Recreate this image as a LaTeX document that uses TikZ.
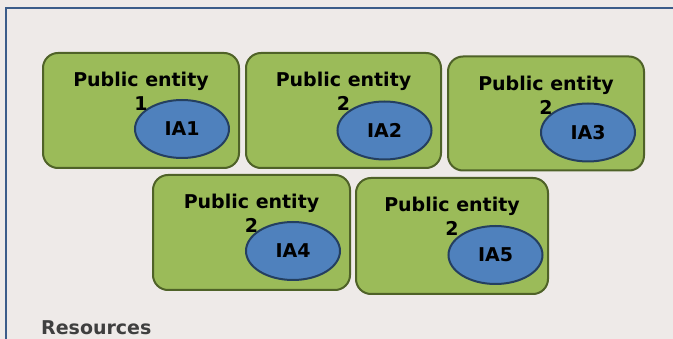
\documentclass[tikz,border=0pt]{standalone}
\usepackage{fontspec}
\setmainfont{DejaVu Sans}
\usetikzlibrary{positioning, shapes.geometric}

\definecolor{pagebg}{HTML}{EEEAE8}
\definecolor{framecol}{HTML}{3B5C89}
\definecolor{entityfill}{HTML}{9BBB59}
\definecolor{entityline}{HTML}{4F6228}
\definecolor{iafill}{HTML}{4F81BD}
\definecolor{ialine}{HTML}{243F60}
\definecolor{restext}{HTML}{3F3F3F}

\begin{document}
\begin{tikzpicture}[x=1pt, y=-1pt,
    entity/.style = {draw=entityline, fill=entityfill, line width=2pt,
        rounded corners=15pt, inner sep=0pt, minimum height=115pt},
    ia/.style = {draw=ialine, fill=iafill, line width=2pt, ellipse,
        inner sep=0pt, minimum width=94pt, minimum height=58pt,
        font=\bfseries\fontsize{19}{22}\selectfont},
    title/.style = {align=center, inner sep=0pt, anchor=north,
        font=\bfseries\fontsize{19}{24}\selectfont}]
    \useasboundingbox (0,0) rectangle (673,339);
    \clip (0,0) rectangle (673,339);
    \fill[pagebg] (0,0) rectangle (673,339);
    \draw[framecol, line width=2pt] (6,8) rectangle (700,370);

    % public entities
    \node[entity, minimum width=196pt] (e1) at (141,110.5) {};
    \node[entity, minimum width=195pt] (e2) at (343.5,110.5) {};
    \node[entity, minimum width=196pt, minimum height=114pt] (e3) at (546,113.5) {};
    \node[entity, minimum width=197pt] (e4) at (251.5,232.5) {};
    \node[entity, minimum width=192pt, minimum height=116pt] (e5) at (452,236) {};

    % internal areas
    \node[ia] (ia1) at (182,129) {IA1};
    \node[ia] (ia2) at (384.5,130.5) {IA2};
    \node[ia] (ia3) at (588,132.5) {IA3};
    \node[ia] (ia4) at (293,251) {IA4};
    \node[ia] (ia5) at (495.5,255) {IA5};

    \node[title, below=20pt of e1.north] (t1) {Public entity\\1};
    \node[title, below=20pt of e2.north] (t2) {Public entity\\2};
    \node[title, below=20pt of e3.north] (t3) {Public entity\\2};
    \node[title, below=20pt of e4.north] (t4) {Public entity\\2};
    \node[title, below=20pt of e5.north] (t5) {Public entity\\2};

    \node[anchor=base west, inner sep=0pt, text=restext,
        font=\bfseries\fontsize{19}{22}\selectfont] (res) at (41,335) {Resources};
\end{tikzpicture}
\end{document}
